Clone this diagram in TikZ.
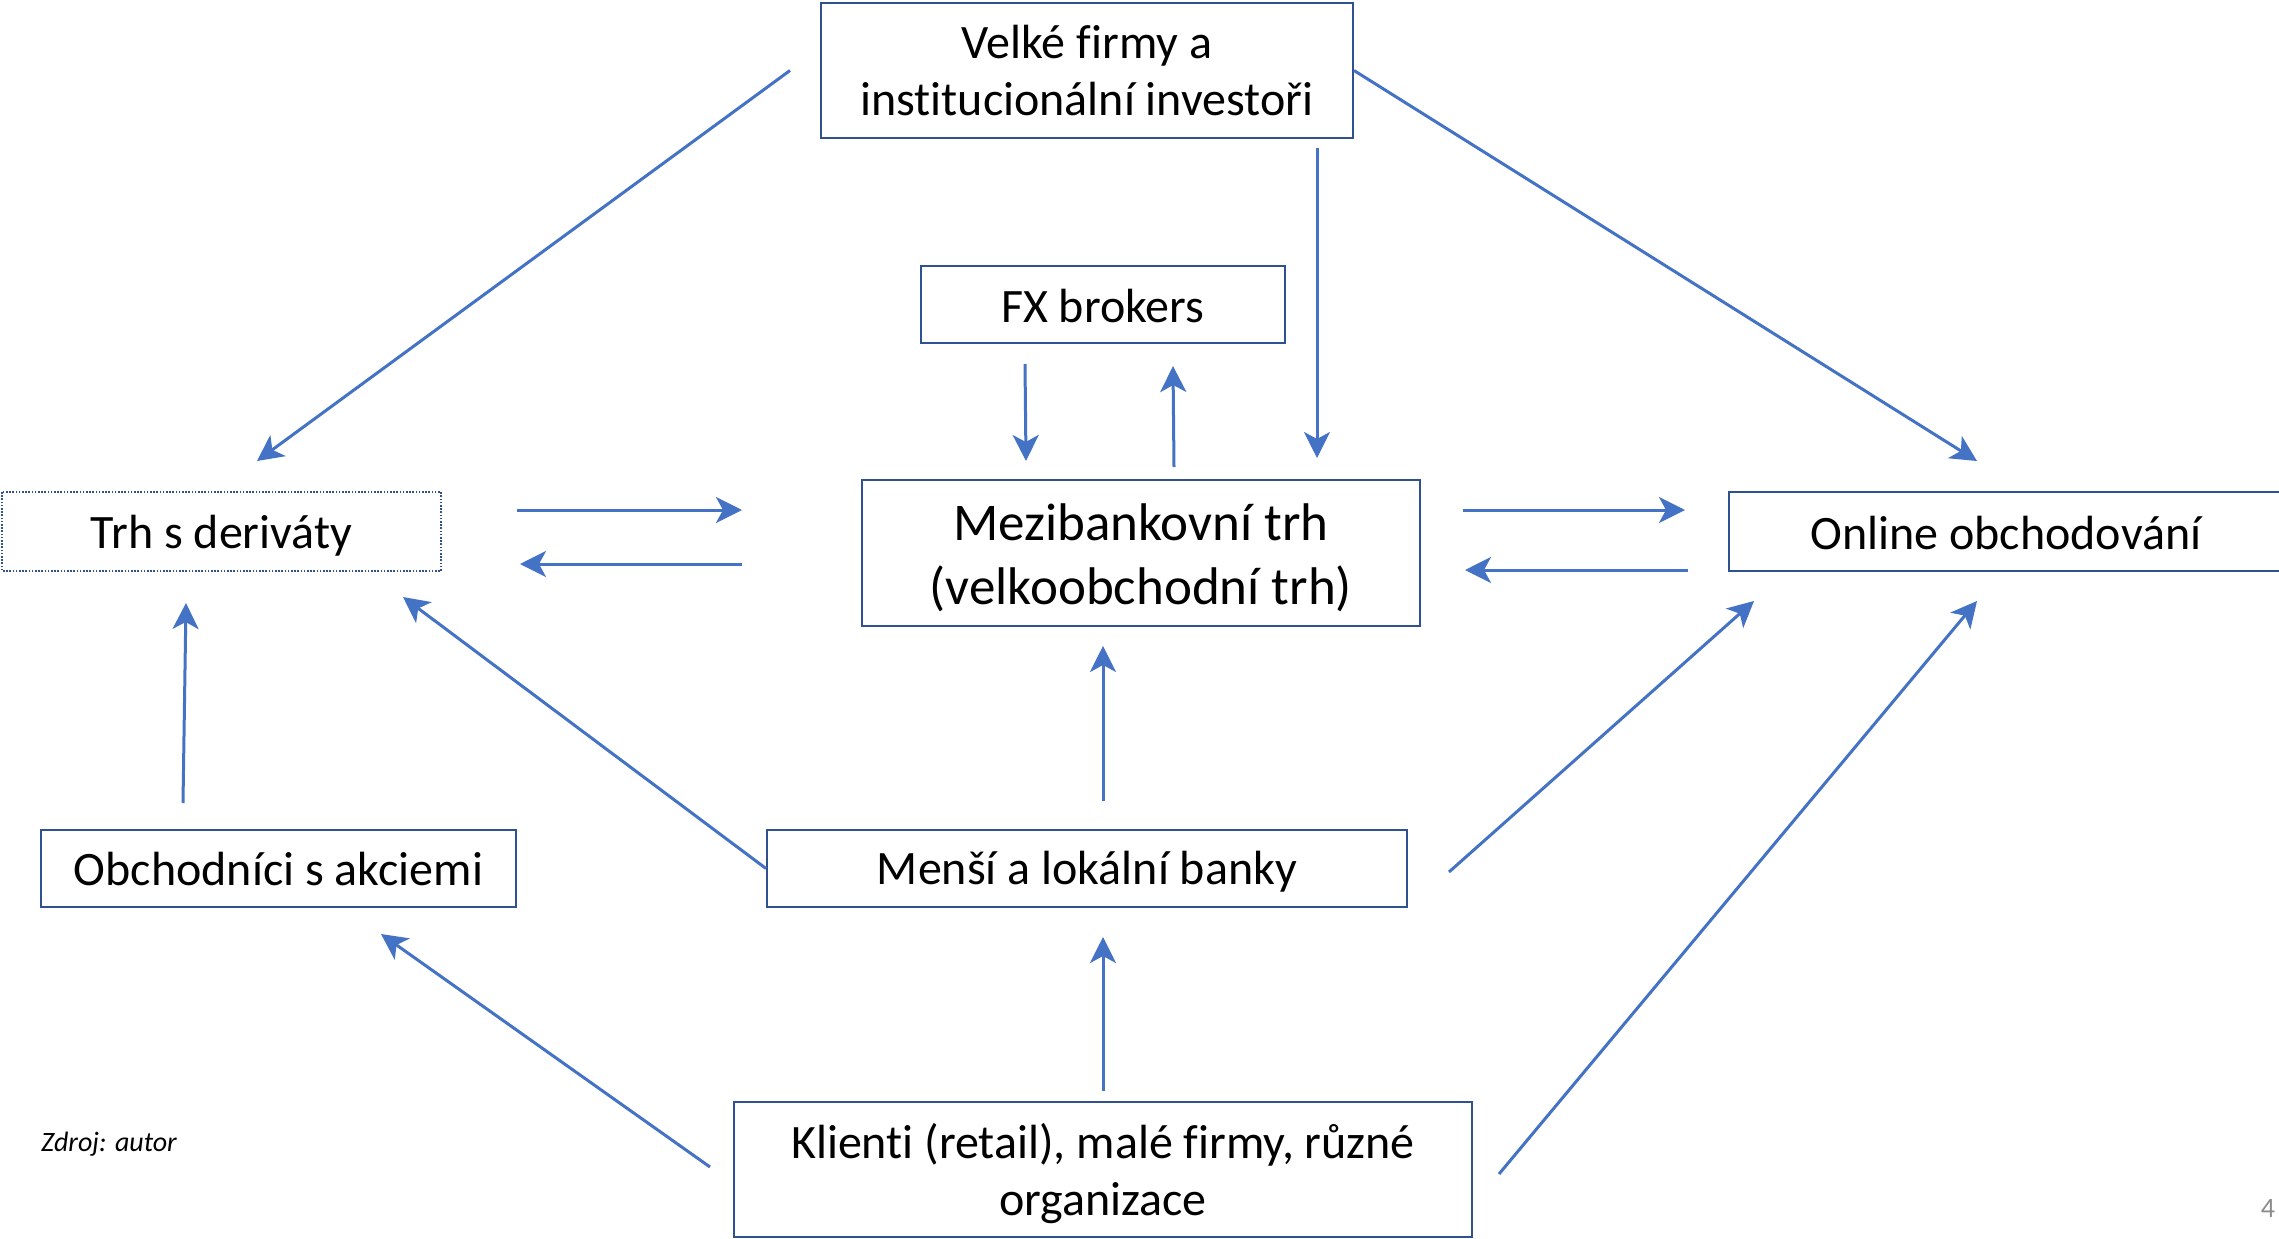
\documentclass[tikz,border=0pt]{standalone}
\usepackage{fontspec}
\setmainfont{Carlito}[Ligatures=NoCommon]
\usetikzlibrary{arrows.meta,calc}
\definecolor{boxc}{HTML}{2F528F}
\definecolor{arrc}{HTML}{4472C4}
\newcommand\lowtxt[2]{\raisebox{-#1}[\height][\depth]{#2}}
\tikzset{
  box/.style={draw=boxc, line width=2pt, inner sep=0pt, align=center,
    font=\fontsize{48}{57}\selectfont},
  arr/.style={draw=arrc, line width=3pt, -{Stealth[length=26pt,width=26pt,inset=7pt]}}
}
\begin{document}
\begin{tikzpicture}[x=1pt,y=-1pt]
\useasboundingbox[fill=white] (0,0) rectangle (2279,1239);
\node[box, minimum width=532pt, minimum height=135pt] (velke) at (1087,70.5) {Velké firmy a\\institucionální investoři};
\node[box, minimum width=364pt, minimum height=77pt] (fx) at (1103,304.5) {\lowtxt{1.5pt}{FX brokers}};
\node[box, minimum width=558pt, minimum height=146pt, font=\fontsize{53}{64}\selectfont] (mezi) at (1141,553) {\lowtxt{7pt}{\begin{tabular}{@{}c@{}}Mezibankovní trh\\(velkoobchodní trh)\end{tabular}}};
\node[box, draw=none, minimum width=437pt, minimum height=77pt] (trh) at (221.5,531.5) {\lowtxt{4pt}{Trh s deriváty}};
\draw[boxc, line width=2pt, dash pattern=on 1.6pt off 1.6pt] (trh.north west) rectangle (trh.south east);
\node[box, draw=none, minimum width=552pt, minimum height=77pt] (online) at (2006,531.5) {\lowtxt{1.5pt}{Online obchodování}};
\draw[boxc, line width=2pt] (online.north east) -- (online.north west) -- (online.south west) -- (online.south east);
\node[box, minimum width=475pt, minimum height=77pt] (obch) at (278.5,868.5) {\lowtxt{0.5pt}{Obchodníci s akciemi}};
\node[box, minimum width=640pt, minimum height=77pt] (mensi) at (1087,868.5) {\lowtxt{3pt}{Menší a lokální banky}};
\node[box, minimum width=738pt, minimum height=135pt] (klienti) at (1103,1169.5) {\lowtxt{6pt}{\begin{tabular}{@{}c@{}}Klienti (retail), malé firmy, různé\\organizace\end{tabular}}};
\node[anchor=west, inner sep=0pt, font=\fontsize{28}{32}\selectfont\itshape] (zdroj) at (41,1144) {Zdroj: autor};
\node[inner sep=0pt, text=black!45, font=\fontsize{28}{32}\selectfont] (pg) at (2268,1208) {4};

\draw[arr] ($(velke.west)+(-30,0)$) -- ($(trh.north)+(35.5,-31)$);
\draw[arr] ($(velke.south)+(230,9)$) -- ($(mezi.north)+(176,-21)$);
\draw[arr] (velke.east) -- ($(online.north)+(-29,-31)$);
\draw[arr] ($(fx.south)+(-78,20)$) -- ($(mezi.north)+(-115,-18)$);
\draw[arr] ($(mezi.north)+(33,-12)$) -- ($(fx.south)+(70,22)$);
\draw[arr] ($(trh.east)+(76,-21.5)$) -- ($(mezi.west)+(-119,-43)$);
\draw[arr] ($(mezi.west)+(-119,11)$) -- ($(trh.east)+(79,32.5)$);
\draw[arr] ($(mezi.east)+(42,-43)$) -- ($(online.west)+(-44,-21.5)$);
\draw[arr] ($(online.west)+(-41,38.5)$) -- ($(mezi.east)+(44,17)$);
\draw[arr] ($(obch.north)+(-95.5,-26)$) -- ($(trh.south)+(-35.5,32)$);
\draw[arr] (mensi.west) -- ($(trh.south)+(181.5,26)$);
\draw[arr] ($(mensi.north)+(16,-28)$) -- ($(mezi.south)+(-38,19)$);
\draw[arr] ($(mensi.east)+(41,3.5)$) -- ($(online.south)+(-252,30)$);
\draw[arr] ($(klienti.east)+(26,4.5)$) -- ($(online.south)+(-29,30)$);
\draw[arr] ($(klienti.west)+(-23,-2.5)$) -- ($(obch.south)+(102.5,26)$);
\draw[arr] ($(klienti.north)+(0,-10)$) -- ($(mensi.south)+(16,29)$);
\end{tikzpicture}
\end{document}
